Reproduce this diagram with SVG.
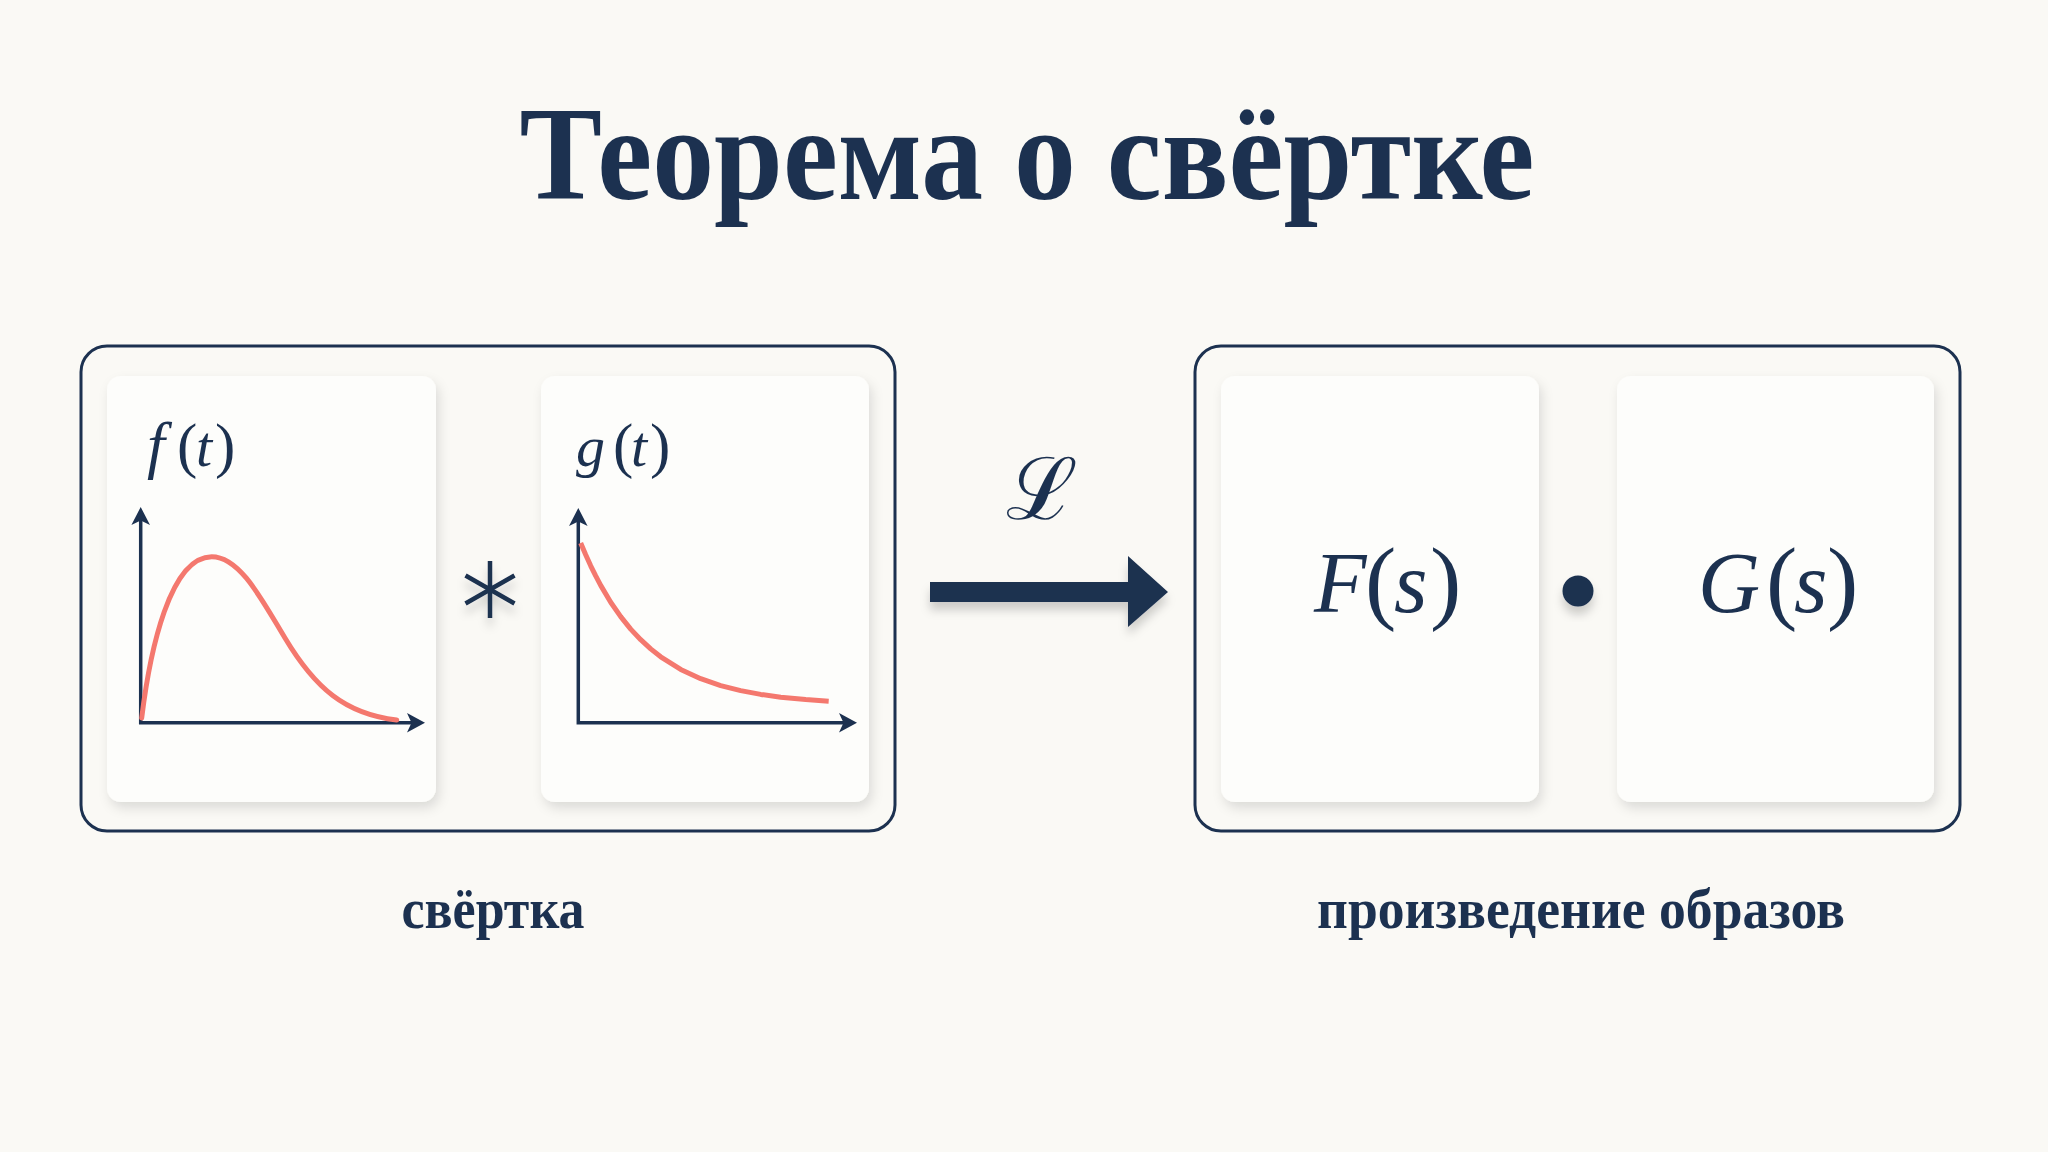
<svg xmlns="http://www.w3.org/2000/svg" width="2048" height="1152" viewBox="0 0 2048 1152">
  <defs>
    <style>
      .navy { fill: #1C3150; }
      .frame { fill: none; stroke: #1C3150; stroke-width: 3; }
      .card { fill: #FDFDFB; }
      .axis { fill: none; stroke: #1C3150; stroke-width: 3.5; stroke-linejoin: miter; }
      .curve { fill: none; stroke: #F4786E; stroke-width: 5; stroke-linecap: round; stroke-linejoin: round; }
      .title { font-family: "Liberation Serif", "DejaVu Serif", serif; font-weight: bold; fill: #1C3150; }
      .math { font-family: "Liberation Serif", "DejaVu Serif", serif; font-style: italic; fill: #1C3150; }
      .paren { font-style: normal; }
      .caption { font-family: "Liberation Serif", "DejaVu Serif", serif; font-weight: bold; font-size: 58px; fill: #1C3150; }
      .star { fill: none; stroke: #1C3150; stroke-width: 4.5; stroke-linecap: butt; }
    </style>
    <filter id="cardShadow" x="-10%" y="-10%" width="125%" height="125%">
      <feDropShadow dx="3" dy="6" stdDeviation="6" flood-color="#000000" flood-opacity="0.12"/>
    </filter>
    <filter id="symShadow" x="-30%" y="-30%" width="160%" height="180%">
      <feDropShadow dx="0" dy="8" stdDeviation="5" flood-color="#000000" flood-opacity="0.18"/>
    </filter>
  </defs>

  <rect x="0" y="0" width="2048" height="1152" fill="#FAF9F5"/>

  <g id="title">
    <text class="title" x="1027" y="199" font-size="134" text-anchor="middle" textLength="1015" lengthAdjust="spacingAndGlyphs">Теорема о свёртке</text>
  </g>

  <g id="convolution-group">
    <rect class="frame" x="81" y="346" width="814" height="485" rx="26"/>
    <text class="caption" x="493" y="928" text-anchor="middle" textLength="183" lengthAdjust="spacingAndGlyphs">свёртка</text>
  </g>

  <g id="card-f">
    <rect class="card" x="107" y="376" width="329" height="426" rx="14" filter="url(#cardShadow)"/>
    <text class="math" y="466" font-size="58"><tspan x="147" font-size="64">f</tspan><tspan class="paren" x="177" font-size="61">(</tspan><tspan x="196">t</tspan><tspan class="paren" x="215" font-size="61">)</tspan></text>
    <path class="axis" d="M140.7,518 V722.7 H412"/>
    <path class="navy" d="M140.7,507 L150,525 L140.7,520.5 L131.4,525 Z"/>
    <path class="navy" d="M425,722.7 L407,713 L411.5,722.7 L407,732.4 Z"/>
    <path class="curve" d="M141.7,718 C150,650 170,557 211.7,556.7 C240,556.7 262,600 285,638 C315,688 345,714 396.7,720"/>
  </g>

  <g id="convolution-operator" filter="url(#symShadow)">
    <path class="star" d="M490,561 V618 M465.5,575.5 L514.5,603.5 M514.5,575.5 L465.5,603.5"/>
  </g>

  <g id="card-g">
    <rect class="card" x="541" y="376" width="328" height="426" rx="14" filter="url(#cardShadow)"/>
    <text class="math" y="466" font-size="58"><tspan x="576">g</tspan><tspan class="paren" x="613" font-size="61">(</tspan><tspan x="631">t</tspan><tspan class="paren" x="650" font-size="61">)</tspan></text>
    <path class="axis" d="M578.3,518 V722.7 H845"/>
    <path class="navy" d="M578.3,508 L587.6,526 L578.3,521.5 L569,526 Z"/>
    <path class="navy" d="M857,722.7 L839,713 L843.5,722.7 L839,732.4 Z"/>
    <polyline class="curve" style="stroke-linecap:butt" points="580.7,543 585.7,554.8 590.7,565.8 595.7,575.9 600.7,585.4 610.7,602.2 620.7,616.6 630.7,629.1 640.7,639.7 650.7,648.9 660.7,656.8 680.7,669.4 700.7,678.7 720.7,685.6 740.7,690.6 760.7,694.4 780.7,697.2 805.7,699.6 828.7,701.2"/>
  </g>

  <g id="connectors">
    <path class="navy" filter="url(#symShadow)" d="M930,582 H1128 V556 L1168,592 L1128,627 V602 H930 Z"/>
    <text x="1042" y="519" font-family="DejaVu Serif, serif" font-size="86" text-anchor="middle" class="navy">ℒ</text>
  </g>

  <g id="product-group">
    <rect class="frame" x="1195" y="346" width="765" height="485" rx="26"/>
    <text class="caption" x="1581" y="928" text-anchor="middle" textLength="528" lengthAdjust="spacingAndGlyphs">произведение образов</text>
  </g>

  <g id="card-F">
    <rect class="card" x="1221" y="376" width="318" height="426" rx="14" filter="url(#cardShadow)"/>
    <text class="math" y="612" font-size="86"><tspan x="1314">F</tspan><tspan class="paren" x="1365" font-size="94">(</tspan><tspan x="1394">s</tspan><tspan class="paren" x="1430" font-size="94">)</tspan></text>
  </g>

  <g id="product-operator">
    <circle class="navy" cx="1578" cy="591" r="15.5" filter="url(#symShadow)"/>
  </g>

  <g id="card-G">
    <rect class="card" x="1617" y="376" width="317" height="426" rx="14" filter="url(#cardShadow)"/>
    <text class="math" y="612" font-size="86"><tspan x="1698">G</tspan><tspan class="paren" x="1766" font-size="94">(</tspan><tspan x="1794">s</tspan><tspan class="paren" x="1827" font-size="94">)</tspan></text>
  </g>
</svg>
